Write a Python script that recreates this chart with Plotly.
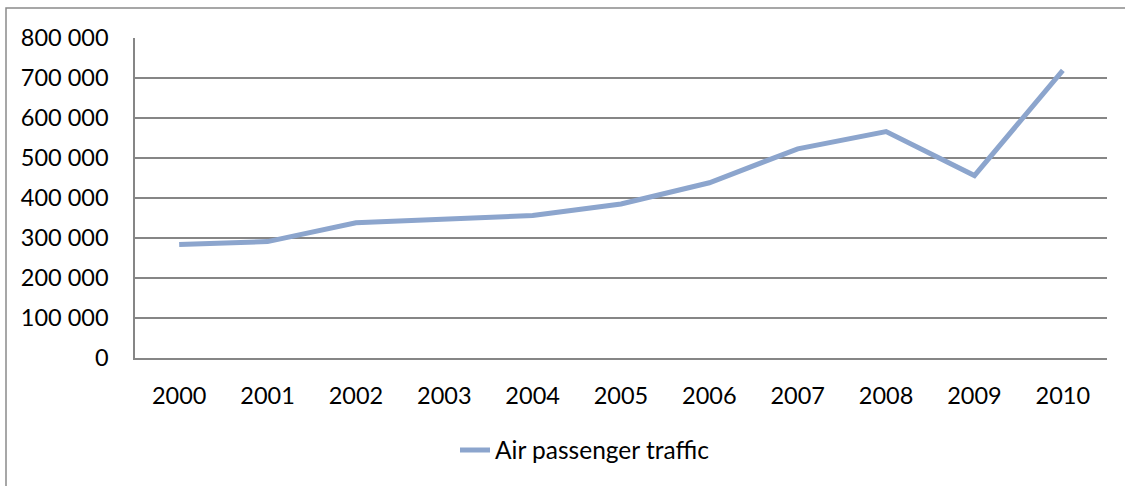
import plotly.graph_objects as go

years = ["2000", "2001", "2002", "2003", "2004", "2005",
         "2006", "2007", "2008", "2009", "2010"]
passengers = [284000, 291000, 338000, 346000, 356000, 385000,
              438000, 523000, 566000, 456000, 719000]
y_ticks = [0, 100000, 200000, 300000, 400000, 500000, 600000, 700000, 800000]
series_name = "Air passenger traffic"

W, H = 1125, 486
ml, mr, mt, mb = 135, 18, 38, 128
pw, ph = W - ml - mr, H - mt - mb

fig = go.Figure()
fig.add_trace(go.Scatter(
    x=years, y=passengers, mode="lines", name=series_name,
    line=dict(color="#8CA5CD", width=5),
))

# outer chart frame (left and top edges visible)
fig.add_shape(type="rect", xref="paper", yref="paper",
              x0=(6 - ml) / pw, x1=1.2, y0=-0.6, y1=(H - mb - 8) / ph,
              line=dict(color="#8A8A8A", width=1.5), fillcolor="rgba(0,0,0,0)",
              layer="below")

fig.update_layout(
    width=W, height=H,
    margin=dict(l=ml, r=mr, t=mt, b=mb, autoexpand=False),
    paper_bgcolor="white", plot_bgcolor="white",
    separators=", ",
    font=dict(family="Lato, Carlito, sans-serif", size=23.5, color="#000000"),
    showlegend=True,
    legend=dict(orientation="h", x=(455 - ml) / pw, xanchor="left",
                y=-(450 - (H - mb)) / ph, yanchor="middle",
                font=dict(size=24.5), bgcolor="rgba(0,0,0,0)"),
    xaxis=dict(type="category", range=[-0.5, 10.5], showgrid=False,
               showline=True, linecolor="#868686", linewidth=1.5, ticks="",
               ticklabelstandoff=16, fixedrange=True, automargin=False),
    yaxis=dict(range=[0, 800000], tickvals=y_ticks, tickformat=",d",
               showgrid=True, gridcolor="#868686", gridwidth=1.5,
               showline=True, linecolor="#868686", linewidth=1.5,
               zeroline=False, ticks="", ticklabelstandoff=20,
               fixedrange=True, automargin=False),
)

fig.write_html("out.html")
